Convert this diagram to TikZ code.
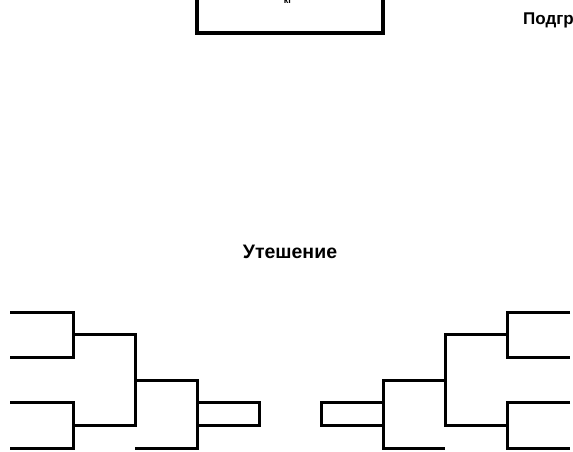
\documentclass[tikz,border=0pt]{standalone}
\usepackage{fontspec}
\setmainfont{Liberation Sans}
\begin{document}
\begin{tikzpicture}[x=1pt,y=-1pt,
  bline/.style={line width=3pt},
  boxline/.style={line width=4pt},
  title/.style={font=\bfseries\fontsize{19.5}{22}\selectfont,inner sep=0pt,anchor=base},
  sub/.style={font=\bfseries\fontsize{17}{19}\selectfont,inner sep=0pt,anchor=base west},
  tiny/.style={font=\bfseries\fontsize{9}{10}\selectfont,inner sep=0pt,anchor=base}]
\useasboundingbox (0,0) rectangle (573,452);
\clip (0,0) rectangle (573,452);
% top box (partially visible)
\draw[boxline] (197,-20) rectangle (383,32.7);
\node[tiny] (kg) at (288,4) {кг};
\node[sub] (podgr) at (523,25) {Подгруппа};
% title
\node[title] (uteshenie) at (290,258) {Утешение};
% half brackets
\foreach \s/\o in {1/0,-1/580}{
  \begin{scope}[xshift=\o pt, xscale=\s]
    \coordinate (a0) at (10,312.7);  \coordinate (a1) at (73,312.7);
    \coordinate (b0) at (10,357.3);  \coordinate (b1) at (73,357.3);
    \coordinate (c0) at (10,402.7);  \coordinate (c1) at (73,402.7);
    \coordinate (d0) at (10,448.3);  \coordinate (d1) at (73,448.3);
    \coordinate (m1a) at (73,334.3); \coordinate (m1b) at (135,334.3);
    \coordinate (m2a) at (73,425.7); \coordinate (m2b) at (135,425.7);
    \coordinate (m3a) at (135,380.3); \coordinate (m3b) at (197,380.3);
    \coordinate (e0) at (135,448.3); \coordinate (e1) at (197,448.3);
    \coordinate (f0) at (197,402.7); \coordinate (f1) at (259,425.7);
    \draw[bline] (a0) -- (a1) -- (b1) -- (b0);
    \draw[bline] (c0) -- (c1) -- (d1) -- (d0);
    \draw[bline] (m1a) -- (m1b) -- (m2b) -- (m2a);
    \draw[bline] (m3a) -- (m3b) -- (e1) -- (e0);
    \draw[bline] (f0) rectangle (f1);
  \end{scope}
}
\end{tikzpicture}
\end{document}
